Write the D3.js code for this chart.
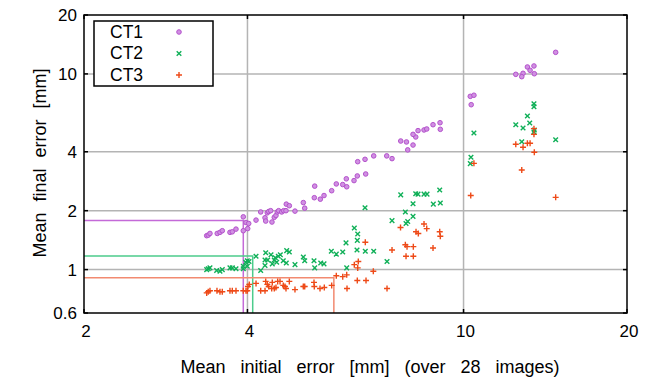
<!DOCTYPE html>
<html>
<head>
<meta charset="utf-8">
<script src="https://cdn.jsdelivr.net/npm/d3@7"></script>
<style>
  body { margin: 0; background: #fff; }
  svg { font-family: "Liberation Sans", Arial, sans-serif; }
</style>
</head>
<body>
<div id="chart"></div>
<script>
// series names
const seriesNames = ['CT1', 'CT2', 'CT3'];

// mean initial error [mm] / mean final error [mm]
const ct1 = [
  [3.365,1.49],[3.387,1.50],[3.412,1.53],[3.519,1.53],[3.560,1.55],[3.595,1.58],[3.714,1.55],[3.751,1.56],
  [3.810,1.61],[3.930,1.58],[4.004,1.62],[3.930,1.86],[3.975,1.74],[4.021,1.72],[4.148,1.79],[4.231,1.97],
  [4.309,1.84],[4.322,1.77],[4.351,1.95],[4.377,1.98],[4.414,2.00],[4.438,1.75],[4.482,1.85],[4.514,1.89],
  [4.539,1.97],[4.566,2.00],[4.625,1.97],[4.664,2.00],[4.710,2.00],[4.716,2.16],[4.777,2.12],[4.893,1.99],
  [5.069,2.20],[5.099,2.06],[5.311,2.33],[5.320,2.67],[5.448,2.29],[5.534,2.39],[5.717,2.53],[5.830,2.74],
  [5.991,2.72],[6.093,2.65],[6.083,2.91],[6.285,2.85],[6.373,3.01],[6.604,3.08],[6.384,3.56],[6.585,3.66],
  [6.832,3.81],[7.220,3.81],[7.384,3.69],[7.892,4.09],[8.072,4.33],[7.850,4.49],[7.662,4.54],[8.165,4.76],
  [8.072,4.91],[8.245,5.13],[8.457,5.17],[8.555,5.23],[9.062,5.21],[8.786,5.50],[9.051,5.63],[10.33,6.96],
  [10.29,7.68],[10.45,7.78],[12.48,9.95],[12.87,10.07],[12.80,9.68],[13.11,10.85],[13.48,10.98],[13.26,10.43],
  [13.50,10.02],[14.78,12.89]
];
const ct2 = [
  [3.365,1.00],[3.387,1.01],[3.412,1.02],[3.510,0.99],[3.560,0.98],[3.595,1.00],[3.714,1.02],[3.751,1.02],
  [3.810,1.01],[3.930,1.01],[3.930,1.04],[3.970,1.09],[3.997,1.11],[4.026,1.10],[3.997,1.04],[4.148,1.17],
  [4.231,0.99],[4.322,1.22],[4.309,1.12],[4.309,1.05],[4.358,1.12],[4.420,1.19],[4.444,1.07],[4.482,1.12],
  [4.501,1.15],[4.528,1.09],[4.559,1.17],[4.598,1.19],[4.656,1.11],[4.716,1.08],[4.724,1.25],[4.777,1.23],
  [4.893,1.06],[5.069,1.16],[5.099,1.11],[5.304,1.11],[5.320,1.02],[5.457,1.08],[5.534,1.07],[5.708,1.24],
  [5.830,1.20],[5.991,1.23],[6.093,1.02],[6.075,1.37],[6.293,1.63],[6.384,1.52],[6.373,1.41],[6.365,1.26],
  [6.593,1.24],[6.832,1.24],[7.229,1.10],[6.585,2.07],[7.384,1.78],[7.662,2.41],[7.813,1.97],[7.836,1.72],
  [7.892,1.76],[8.072,2.17],[8.072,1.87],[8.165,2.44],[8.245,2.43],[8.457,2.43],[8.566,2.43],[8.797,2.16],
  [9.039,2.55],[9.062,2.19],[10.29,3.48],[10.32,3.75],[10.45,4.99],[12.48,5.50],[12.80,4.50],[12.87,5.29],
  [13.11,6.09],[13.24,5.61],[13.48,7.04],[13.48,6.80],[13.50,5.17],[13.48,5.05],[14.78,4.61]
];
const ct3 = [
  [3.365,0.76],[3.387,0.77],[3.412,0.78],[3.515,0.78],[3.560,0.77],[3.595,0.77],[3.714,0.78],[3.751,0.78],
  [3.810,0.78],[3.930,0.78],[3.975,0.78],[3.997,0.78],[4.009,0.82],[4.031,0.84],[4.148,0.85],[4.231,0.78],
  [4.309,0.78],[4.322,0.87],[4.351,0.84],[4.377,0.82],[4.433,0.80],[4.444,0.86],[4.482,0.80],[4.514,0.81],
  [4.547,0.87],[4.592,0.87],[4.656,0.83],[4.690,0.82],[4.710,0.80],[4.777,0.87],[4.893,0.79],[5.069,0.82],
  [5.099,0.82],[5.304,0.86],[5.311,0.82],[5.441,0.80],[5.541,0.81],[5.717,0.83],[5.830,0.93],[5.991,0.92],
  [6.093,0.94],[6.101,0.80],[6.293,1.06],[6.384,1.02],[6.400,1.10],[6.593,1.38],[6.373,0.88],[6.613,0.88],
  [6.821,0.98],[7.229,0.80],[7.384,1.26],[7.655,1.64],[7.813,1.34],[7.869,1.31],[8.082,1.31],[8.082,1.17],
  [7.836,1.17],[8.175,1.56],[8.255,1.53],[8.457,1.71],[8.555,1.62],[8.786,1.29],[9.039,1.56],[9.062,1.48],
  [10.31,2.39],[10.45,3.49],[12.48,4.37],[12.80,3.23],[12.87,4.22],[13.11,4.42],[13.26,4.42],[13.48,5.25],
  [13.48,4.91],[13.50,3.98],[14.78,2.34]
];
// reference (initial, final) for each series, drawn as corner lines
const refPoints = [[3.93, 1.78], [4.09, 1.174], [5.77, 0.909]];

const xTicks = [2, 4, 10, 20];
const yTicks = [0.6, 1, 2, 4, 10, 20];
const xGrid = [4, 10];
const yGrid = [1, 2, 4, 10];

const width = 659, height = 379;
const mLeft = 84, mRight = 627, mTop = 15, mBottom = 313;

const markColor = ['#b452cc', '#10b058', '#ee4a18'];
const lineColor = ['#c46ad8', '#4ccc8c', '#f28a70'];

const svg = d3.select('#chart').append('svg')
  .attr('width', width)
  .attr('height', height);

const x = d3.scaleLog().domain([2, 20]).range([mLeft, mRight]);
const y = d3.scaleLog().domain([0.6, 20]).range([mBottom, mTop]);

// grid
svg.append('g').selectAll('line').data(xGrid).enter().append('line')
  .attr('x1', d => x(d)).attr('x2', d => x(d))
  .attr('y1', mTop).attr('y2', mBottom)
  .attr('stroke', '#b4b4b4').attr('stroke-width', 1.5);
svg.append('g').selectAll('line').data(yGrid).enter().append('line')
  .attr('x1', mLeft).attr('x2', mRight)
  .attr('y1', d => y(d)).attr('y2', d => y(d))
  .attr('stroke', '#b4b4b4').attr('stroke-width', 1.5);

// reference corner lines
refPoints.forEach((p, i) => {
  svg.append('path')
    .attr('d', `M${mLeft},${y(p[1])}H${x(p[0])}V${mBottom}`)
    .attr('fill', 'none')
    .attr('stroke', lineColor[i])
    .attr('stroke-width', 1.5);
});

// markers
const symbols = [
  g => g.append('circle').attr('r', 2.3)
        .attr('fill', '#d090e2').attr('stroke', markColor[0]).attr('stroke-width', 1),
  g => g.append('path').attr('d', 'M-2.3,-2.3L2.3,2.3M-2.3,2.3L2.3,-2.3')
        .attr('stroke', markColor[1]).attr('stroke-width', 1.4).attr('fill', 'none'),
  g => g.append('path').attr('d', 'M-3,0H3M0,-3V3')
        .attr('stroke', markColor[2]).attr('stroke-width', 1.4).attr('fill', 'none')
];

[ct1, ct2, ct3].forEach((data, i) => {
  svg.append('g').selectAll('g').data(data).enter().append('g')
    .attr('transform', d => `translate(${x(d[0])},${y(d[1])})`)
    .each(function() { symbols[i](d3.select(this)); });
});

// frame
svg.append('rect')
  .attr('x', mLeft).attr('y', mTop)
  .attr('width', mRight - mLeft).attr('height', mBottom - mTop)
  .attr('fill', 'none').attr('stroke', '#000').attr('stroke-width', 1.5);

// inward ticks
const tk = 4;
xTicks.forEach(t => {
  svg.append('line').attr('x1', x(t)).attr('x2', x(t)).attr('y1', mBottom).attr('y2', mBottom - tk).attr('stroke', '#000').attr('stroke-width', 1.5);
  svg.append('line').attr('x1', x(t)).attr('x2', x(t)).attr('y1', mTop).attr('y2', mTop + tk).attr('stroke', '#000').attr('stroke-width', 1.5);
});
yTicks.forEach(t => {
  svg.append('line').attr('x1', mLeft).attr('x2', mLeft + tk).attr('y1', y(t)).attr('y2', y(t)).attr('stroke', '#000').attr('stroke-width', 1.5);
  svg.append('line').attr('x1', mRight).attr('x2', mRight - tk).attr('y1', y(t)).attr('y2', y(t)).attr('stroke', '#000').attr('stroke-width', 1.5);
});

// tick labels
svg.append('g').selectAll('text').data(xTicks).enter().append('text')
  .attr('x', d => x(d) + 2).attr('y', 337)
  .attr('text-anchor', 'middle')
  .style('font-size', '17px')
  .text(d => d);
svg.append('g').selectAll('text').data(yTicks).enter().append('text')
  .attr('x', mLeft - 7).attr('y', d => y(d) + 6)
  .attr('text-anchor', 'end')
  .style('font-size', '17px')
  .text(d => d);

// axis titles
svg.append('text')
  .attr('x', 370).attr('y', 373)
  .attr('text-anchor', 'middle')
  .style('font-size', '18px')
  .style('word-spacing', '10px')
  .text('Mean initial error [mm] (over 28 images)');
svg.append('text')
  .attr('transform', 'translate(46,163) rotate(-90)')
  .attr('text-anchor', 'middle')
  .style('font-size', '18px')
  .style('word-spacing', '6px')
  .text('Mean final error [mm]');

// legend
const lg = svg.append('g');
lg.append('rect')
  .attr('x', 94).attr('y', 21).attr('width', 119).attr('height', 65)
  .attr('fill', '#fff').attr('stroke', '#000').attr('stroke-width', 1.5);
seriesNames.forEach((name, i) => {
  lg.append('text')
    .attr('x', 110).attr('y', 37.5 + i * 21.5)
    .style('font-size', '17.5px')
    .text(name);
  const g = lg.append('g').attr('transform', `translate(179,${32 + i * 21.5})`);
  symbols[i](g);
});
</script>
</body>
</html>
